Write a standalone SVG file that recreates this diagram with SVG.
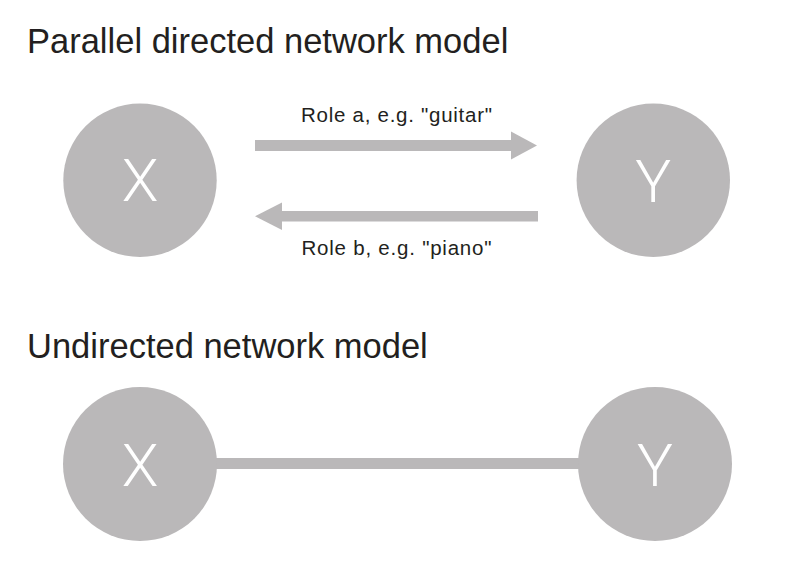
<svg xmlns="http://www.w3.org/2000/svg" width="800" height="568" viewBox="0 0 800 568">
<style>
.title{font-family:"Liberation Sans",Arial,sans-serif;font-size:34.5px;fill:#231f20}
.lbl{font-family:"Liberation Sans",Arial,sans-serif;font-size:20.5px;fill:#231f20}
.node{fill:#bab8b9}
.nt{font-family:Roboto,"Liberation Sans",sans-serif;font-weight:300;font-size:60px;fill:#ffffff;text-anchor:middle}
.c{fill:#bab8b9}
</style>
<rect width="800" height="568" fill="#ffffff"/>
<text class="title" x="27" y="52.5">Parallel directed network model</text>
<text class="title" x="27" y="358">Undirected network model</text>
<g id="connectors">
<g id="edge-a">
<rect class="c" x="255" y="140" width="258" height="11"/>
<polygon class="c" points="511,131.5 537,145.5 511,159.5"/>
<text class="lbl" x="301" y="121.5" textLength="191" lengthAdjust="spacing">Role a, e.g. "guitar"</text>
</g>
<g id="edge-b">
<rect class="c" x="280" y="211" width="258" height="10.5"/>
<polygon class="c" points="282,202.5 255,216.3 282,230"/>
<text class="lbl" x="301.5" y="254.5" textLength="190" lengthAdjust="spacing">Role b, e.g. "piano"</text>
</g>
<g id="edge-undirected">
<rect class="c" x="200" y="458" width="400" height="11"/>
</g>
</g>
<g id="node-x1"><circle class="node" cx="140" cy="180.3" r="76.7"/><text class="nt" x="140" y="201">X</text></g>
<g id="node-y1"><circle class="node" cx="653.3" cy="180.3" r="76.7"/><text class="nt" x="653.3" y="201.5">Y</text></g>
<g id="node-x2"><circle class="node" cx="140" cy="464" r="77"/><text class="nt" x="140" y="486">X</text></g>
<g id="node-y2"><circle class="node" cx="655" cy="464" r="77"/><text class="nt" x="655" y="486">Y</text></g>
</svg>
